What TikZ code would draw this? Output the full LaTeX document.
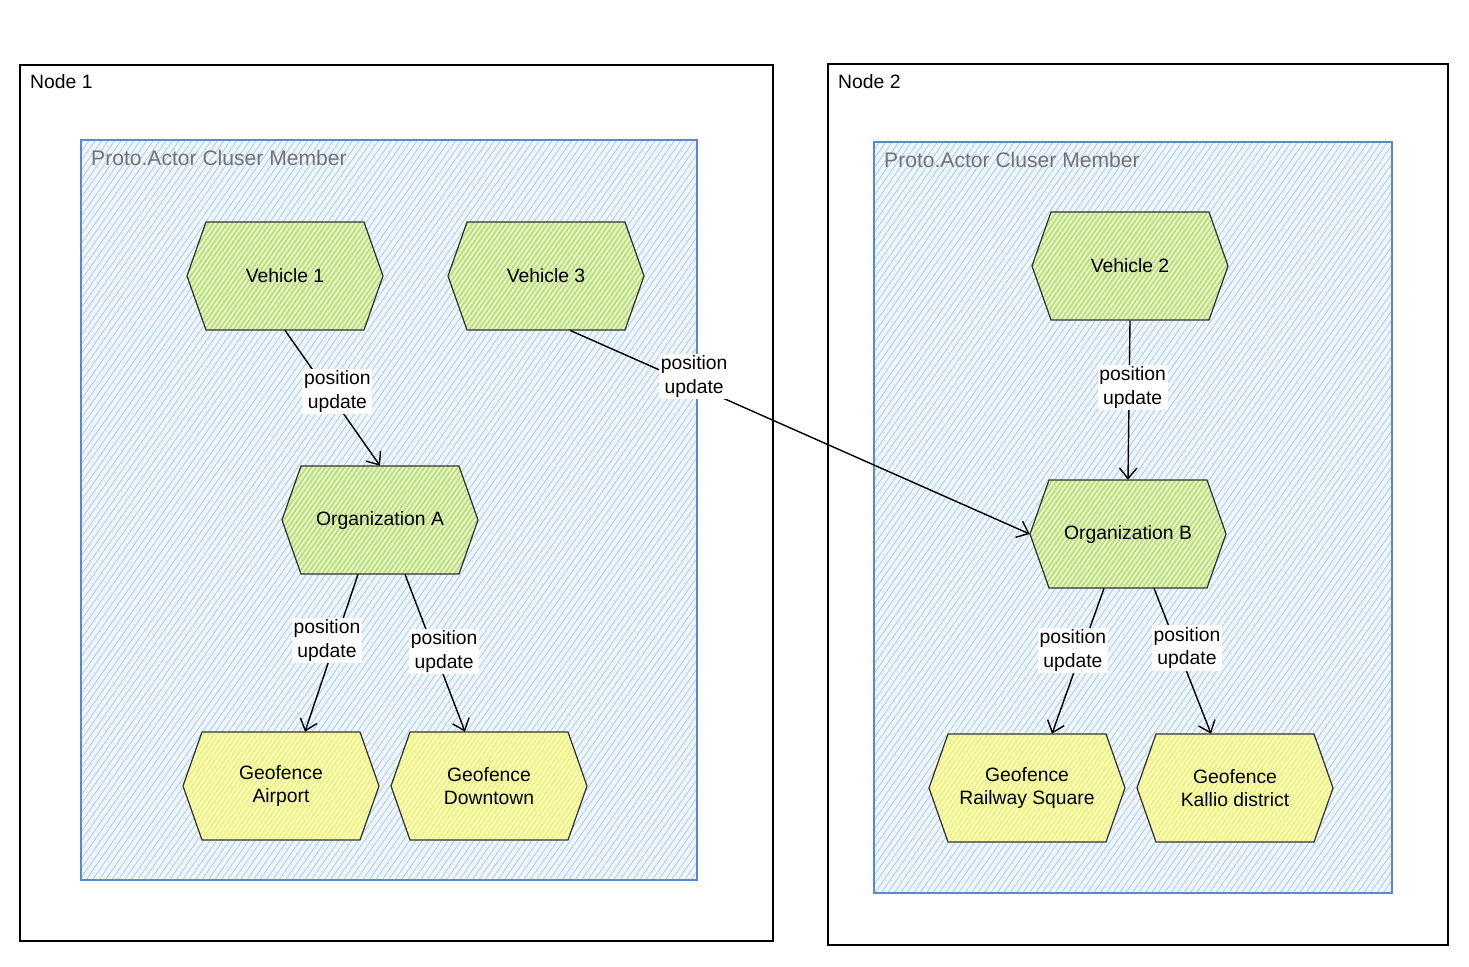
\documentclass[tikz,border=0pt]{standalone}
\usepackage{fontspec}
\setmainfont{Liberation Sans}
\usetikzlibrary{arrows.meta,patterns.meta,calc}

\definecolor{hachblue}{RGB}{175,205,242}
\definecolor{tintblue}{RGB}{240,246,253}
\definecolor{edgeblue}{RGB}{90,135,210}
\definecolor{hachgreen}{RGB}{185,222,115}
\definecolor{tintgreen}{RGB}{232,245,208}
\definecolor{hachyellow}{RGB}{238,243,105}
\definecolor{tintyellow}{RGB}{250,252,212}

\tikzset{
  hexbox/.style={minimum width=3.92cm, minimum height=2.16cm, inner sep=0pt,
    align=center, font=\fontsize{11}{13.5}\selectfont},
  hexline/.style={line width=0.7pt, draw=black!80,
    pattern={Lines[angle=55,distance=2.2pt,line width=1pt]}},
  update/.style={fill=white, inner sep=1pt, align=center,
    font=\fontsize{11}{13.5}\selectfont},
  msg/.style={-{Straight Barb[length=6pt,width=10pt]}, line width=0.8pt},
}

\begin{document}
\begin{tikzpicture}[x=0.02cm,y=-0.02cm]
  \useasboundingbox (0,0) rectangle (1469,966);

  % machines
  \draw[line width=0.8pt] (20,65) rectangle (773,941);
  \draw[line width=0.8pt] (828,64) rectangle (1448,945);
  \node[anchor=west, font=\fontsize{11}{13}\selectfont] (host1) at (24,82) {Node 1};
  \node[anchor=west, font=\fontsize{11}{13}\selectfont] (host2) at (832,82) {Node 2};

  % cluster members
  \draw[edgeblue, line width=0.6pt, preaction={fill=tintblue}, pattern color=hachblue,
    pattern={Lines[angle=55,distance=3pt,line width=0.5pt]}] (81,140) rectangle (697,880);
  \draw[edgeblue, line width=0.6pt, preaction={fill=tintblue}, pattern color=hachblue,
    pattern={Lines[angle=55,distance=3pt,line width=0.5pt]}] (874,142) rectangle (1392,893);
  \node[anchor=west, text=black!55, font=\fontsize{12}{14}\selectfont] (member1) at (85,158) {Proto.Actor Cluser Member};
  \node[anchor=west, text=black!55, font=\fontsize{12}{14}\selectfont] (member2) at (878,160) {Proto.Actor Cluser Member};

  % actors
  \foreach \id/\cx/\cy/\kind/\txt in {
      veh1/285/276/green/{Vehicle 1},
      veh3/546/276/green/{Vehicle 3},
      orgA/380/520/green/{Organization A},
      airport/281/786/yellow/{Geofence\\Airport},
      downtown/489/786/yellow/{Geofence\\Downtown},
      veh2/1130/266/green/{Vehicle 2},
      orgB/1128/534/green/{Organization B},
      railway/1027/788/yellow/{Geofence\\Railway Square},
      kallio/1235/788/yellow/{Geofence\\Kallio district}}{
    \draw[hexline, preaction={fill=tint\kind}, pattern color=hach\kind]
      (\cx-98,\cy) -- ++(19,-54) -- ++(158,0) -- ++(19,54)
      -- ++(-19,54) -- ++(-158,0) -- cycle;
    \node[hexbox] (\id) at (\cx,\cy) {\txt};
  }

  % position updates
  \draw[msg] (veh1.south) -- node[update, pos=0.45, xshift=5.5pt] {position\\update} (orgA.north);
  \draw[msg] ($(veh3.south)+(24,0)$) -- node[update, pos=0.27, yshift=5pt] {position\\update} (orgB.west);
  \draw[msg] ($(orgA.south)+(-22,0)$) -- node[update, pos=0.42, xshift=-5pt] {position\\update} ($(airport.north)+(24,0)$);
  \draw[msg] ($(orgA.south)+(25,0)$) -- node[update, pos=0.49, xshift=5.5pt] {position\\update} ($(downtown.north)+(-24,0)$);
  \draw[msg] (veh2.south) -- node[update, pos=0.42, xshift=2pt] {position\\update} (orgB.north);
  \draw[msg] ($(orgB.south)+(-24,0)$) -- node[update, pos=0.43, xshift=-5pt] {position\\update} ($(railway.north)+(25,0)$);
  \draw[msg] ($(orgB.south)+(26,0)$) -- node[update, pos=0.41, xshift=5.5pt] {position\\update} ($(kallio.north)+(-24,0)$);
\end{tikzpicture}
\end{document}
